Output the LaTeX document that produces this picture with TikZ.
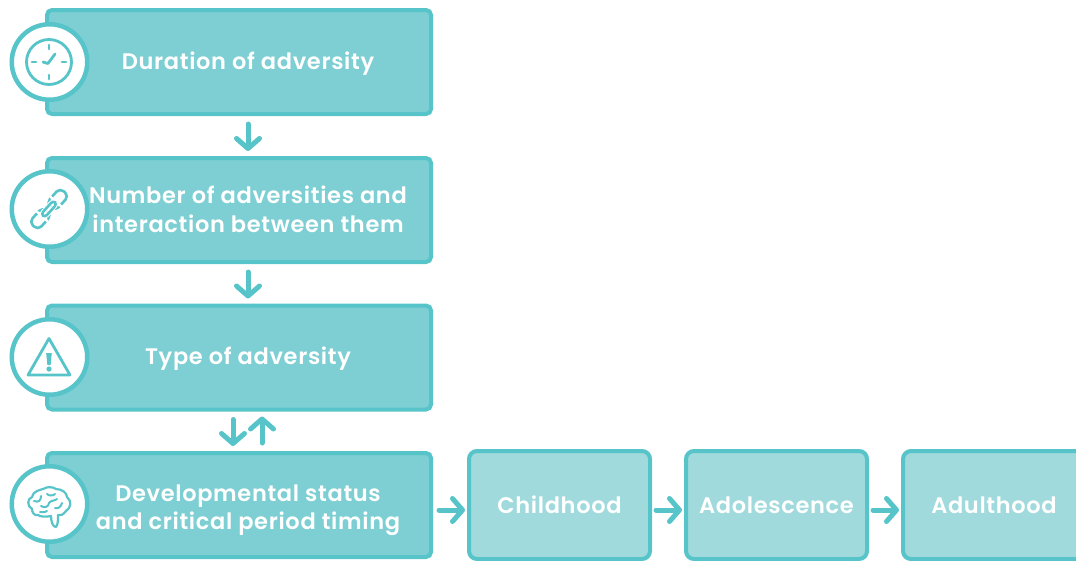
\documentclass[tikz,border=0pt]{standalone}
\usepackage{fontspec}
\setmainfont{Poppins}[BoldFont={Poppins SemiBold},LetterSpace=3]
\usetikzlibrary{arrows.meta}
\definecolor{teal1}{HTML}{56C4C8}
\definecolor{fillA}{HTML}{7ECFD3}
\definecolor{fillB}{HTML}{A0DADC}
\tikzset{
  mainbox/.style={draw=teal1,fill=fillA,line width=4pt,rounded corners=5pt,minimum width=384pt,minimum height=104pt,inner sep=0pt},
  stagebox/.style={draw=teal1,fill=fillB,line width=4pt,rounded corners=8pt,minimum width=181pt,minimum height=108pt,inner sep=0pt},
  iconring/.style={draw=teal1,fill=white,line width=4.5pt,circle,minimum size=75.5pt,inner sep=0pt},
  lbl/.style={text=white,font=\fontsize{22.5}{28.5}\selectfont\bfseries,align=center,inner sep=0pt},
  flow/.style={draw=teal1,line width=5pt,line cap=round,-{Straight Barb[length=10pt,width=23pt,round]}},
  ico/.style={draw=teal1,line width=2.8pt,line cap=round,line join=round},
}
\begin{document}
\begin{tikzpicture}[x=1pt,y=-1pt]
\useasboundingbox (0,0) rectangle (1076,560);
\node[mainbox] (b1) at (239,62) {};
\node[mainbox] (b2) at (239,210) {};
\node[mainbox] (b3) at (239,357.5) {};
\node[mainbox] (b4) at (239,505) {};
\node[stagebox] (s1) at (559.5,505) {};
\node[stagebox] (s2) at (776.5,505) {};
\node[stagebox] (s3) at (993.5,505) {};
\node[iconring] (c1) at (49.5,62) {};
\node[iconring] (c2) at (49.5,209) {};
\node[iconring] (c3) at (49.5,357) {};
\node[iconring] (c4) at (49.5,504) {};
\node[lbl] (t1) at (248,64) {Duration of adversity};
\node[lbl] (t2) at (248,209.5) {Number of adversities and\\interaction between them};
\node[lbl] (t3) at (248,359) {Type of adversity};
\node[lbl] (t4) at (248,510) {Developmental status\\and critical period timing};
\node[lbl] (t5) at (559.5,505) {Childhood};
\node[lbl] (t6) at (776.5,505) {Adolescence};
\node[lbl] (t7) at (994,505) {Adulthood};
% connectors
\draw[flow,shorten <=8pt,shorten >=5pt] ([xshift=9pt]b1.south) -- ([xshift=9pt]b2.north);
\draw[flow,shorten <=8pt,shorten >=5pt] ([xshift=9pt]b2.south) -- ([xshift=9pt]b3.north);
\draw[flow,shorten <=8pt,shorten >=5pt] ([xshift=-6pt]b3.south) -- ([xshift=-6pt]b4.north);
\draw[flow,shorten <=8pt,shorten >=5pt] ([xshift=23pt]b4.north) -- ([xshift=23pt]b3.south);
\draw[flow,shorten <=6pt,shorten >=2pt] ([yshift=-5pt]b4.east) -- ([yshift=-5pt]s1.west);
\draw[flow,shorten <=4pt,shorten >=2pt] ([yshift=-5pt]s1.east) -- ([yshift=-5pt]s2.west);
\draw[flow,shorten <=4pt,shorten >=2pt] ([yshift=-5pt]s2.east) -- ([yshift=-5pt]s3.west);
% clock
\begin{scope}[shift={(49,62)}]
\draw[ico] (0,0) circle (22.5);
\draw[ico] (0,-17)--(0,-13) (0,17)--(0,13) (-17,0)--(-13,0) (17,0)--(13,0);
\draw[ico] (-6,0)--(-1,1.5)--(6,-8);
\end{scope}
% chain
\begin{scope}[shift={(49,209)},rotate=48]
\draw[ico,line width=2.6pt,rounded corners=5pt] (-23,-6) rectangle (-3,6);
\draw[ico,line width=2.6pt,rounded corners=5pt] (3,-6) rectangle (23,6);
\draw[white,line width=4.5pt,rounded corners=3pt] (-9,-2.5) rectangle (9,2.5);
\draw[ico,line width=2.6pt,rounded corners=3pt] (-9,-2.5) rectangle (9,2.5);
\end{scope}
% triangle
\begin{scope}[shift={(49,357)}]
\draw[ico] (0,-18.5)--(21,18)--(-21,18)--cycle;
\fill[teal1] (-2.8,-4)--(2.8,-4)--(1.6,8)--(-1.6,8)--cycle;
\fill[teal1] (0,12) circle (2.6);
\end{scope}
% brain
\begin{scope}[shift={(49,503)}]
\draw[ico,line width=2.2pt] (2,13) .. controls (-3,14) and (-8,14) .. (-11,12)
 .. controls (-15,13) and (-17,9) .. (-17,6)
 .. controls (-22,3) and (-22,-4) .. (-17,-6)
 .. controls (-16,-12) and (-9,-13) .. (-6,-14)
 .. controls (-1,-17) and (4,-16) .. (7,-14)
 .. controls (13,-14) and (18,-10) .. (18,-6)
 .. controls (23,-2) and (22,5) .. (17,8)
 .. controls (14,12) and (11,13) .. (9,12)
 .. controls (9,17) and (9,22) .. (7,24)
 .. controls (4,24) and (2,19) .. (2,13) -- cycle;
\draw[ico,line width=2pt] (-15,-2) .. controls (-10,0) and (-8,-3) .. (-8,-7)
 (-8,3) .. controls (-4,6) and (0,3) .. (0,0) .. controls (2,-3) and (6,-2) .. (8,-4)
 (-2,-9) .. controls (0,-7) and (4,-7) .. (6,-9)
 (6,5) .. controls (9,6) and (12,4) .. (13,0)
 (-9,9) .. controls (-6,10) and (-3,9) .. (-2,8);
\end{scope}
\end{tikzpicture}
\end{document}
